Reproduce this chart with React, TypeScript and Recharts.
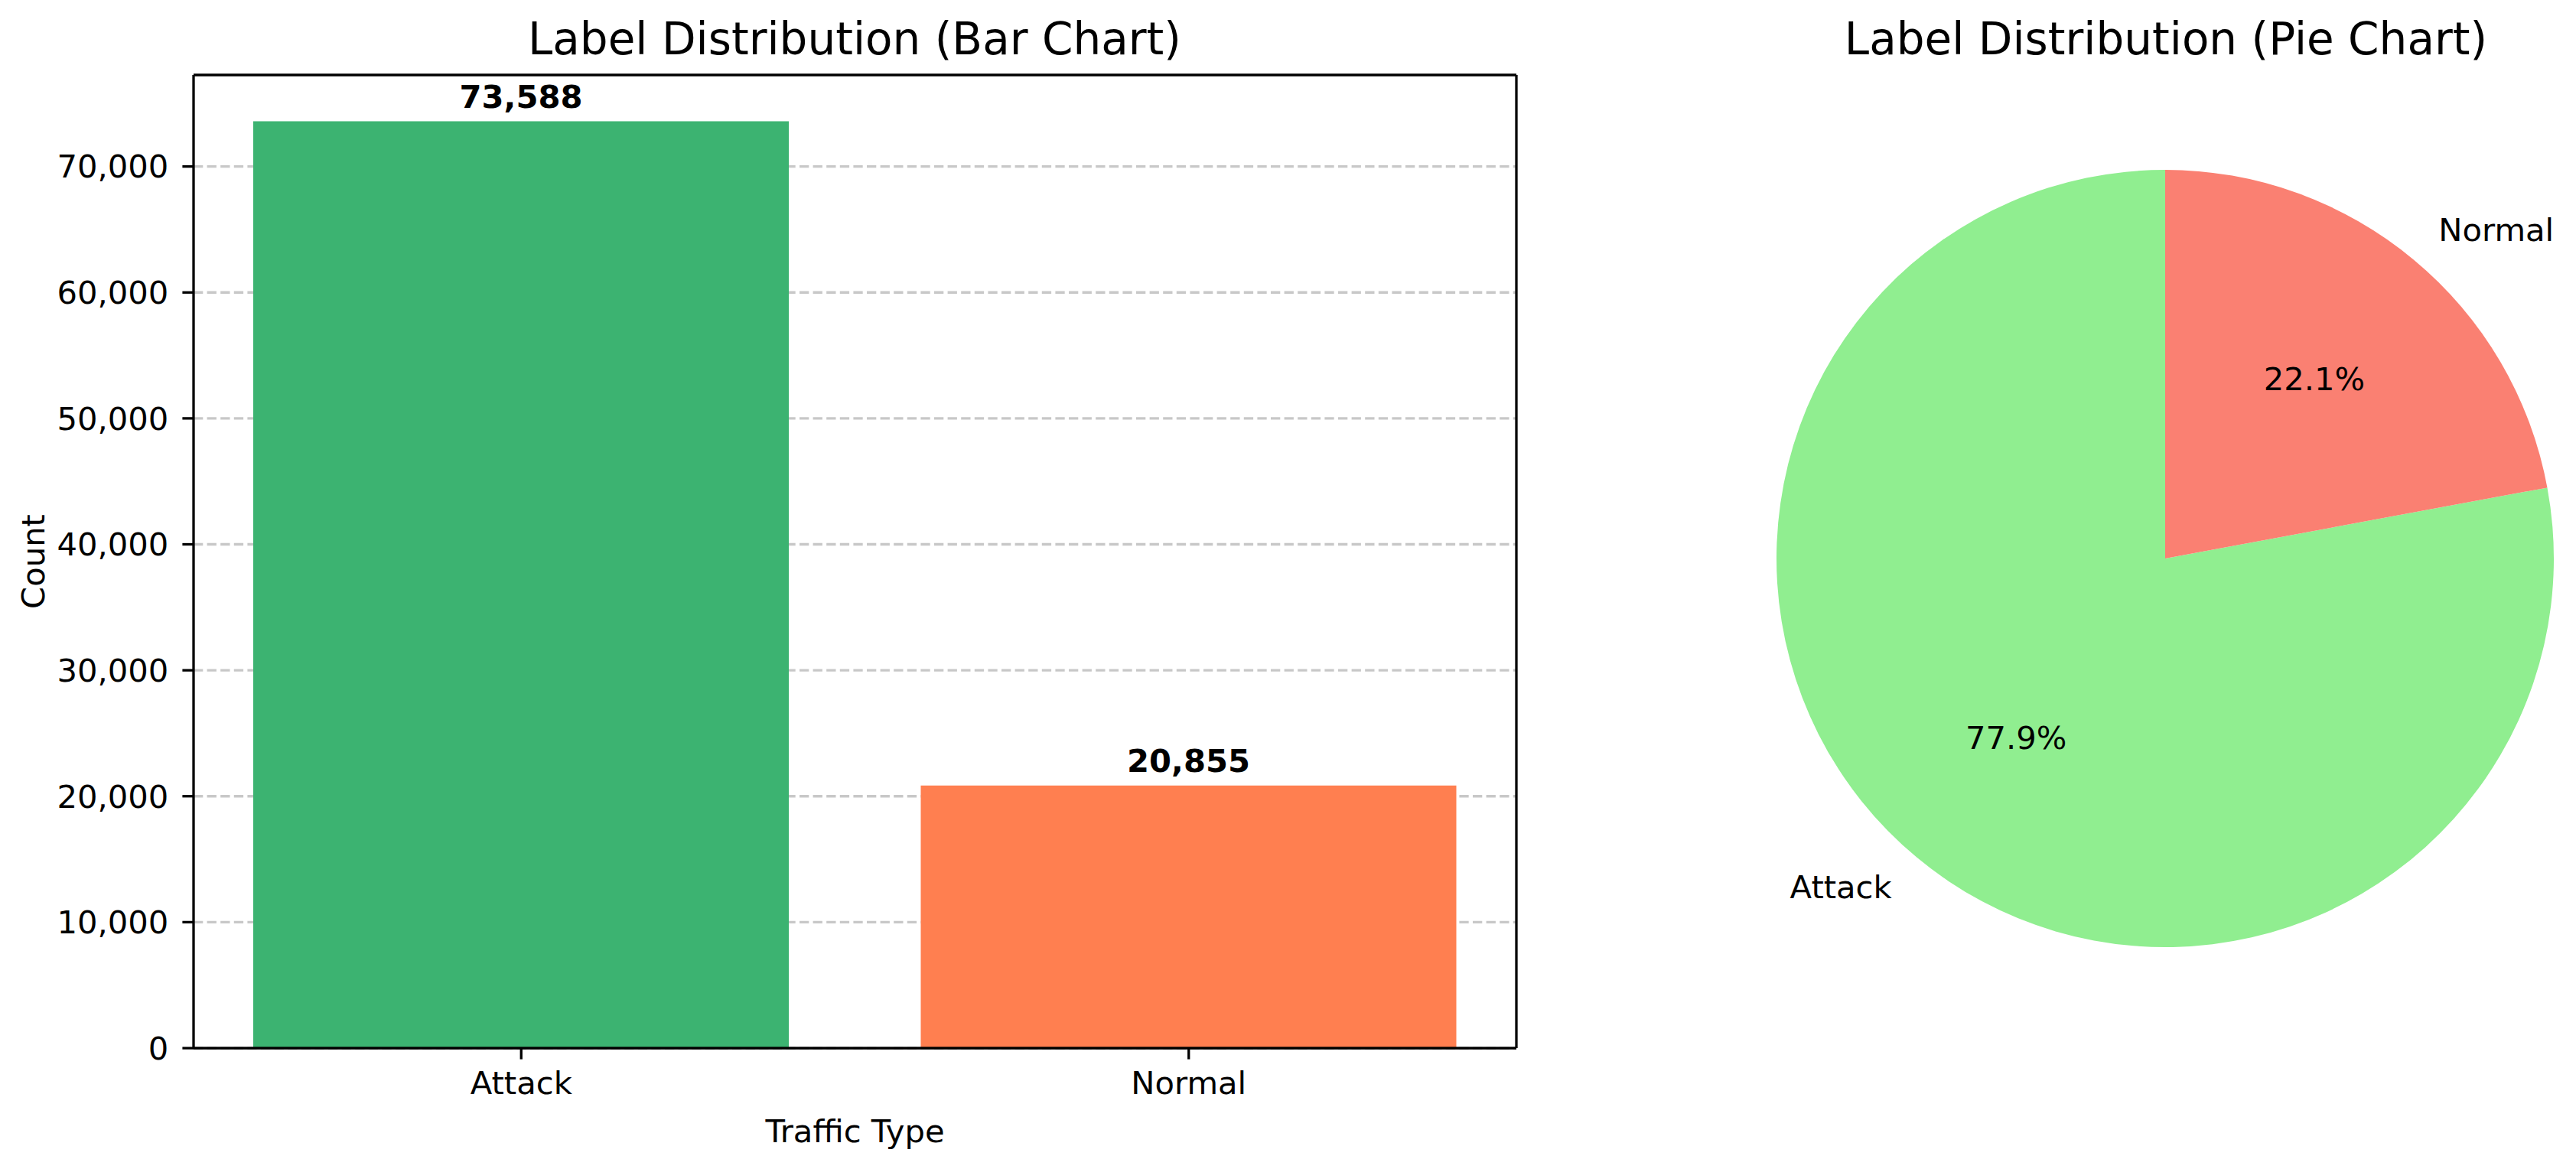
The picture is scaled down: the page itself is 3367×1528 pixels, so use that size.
import React from "react";
import {
  BarChart,
  Bar,
  XAxis,
  YAxis,
  CartesianGrid,
  Cell,
  LabelList,
  PieChart,
  Pie,
} from "recharts";

// Data
const categories = ["Attack", "Normal"];
const counts = [73588, 20855];
const barColors = ["#3cb371", "#ff7f50"]; // mediumseagreen, coral
const pieColors = ["#90ee90", "#fa8072"]; // lightgreen, salmon
const yTicks = [0, 10000, 20000, 30000, 40000, 50000, 60000, 70000];
const yMax = 77267; // matplotlib's 5% headroom over the tallest bar

const rows = categories.map((name, i) => ({ name, count: counts[i] }));

const FONT = "DejaVu Sans";
const SMALL = 41.7; // 10pt at 300 dpi
const TITLE = 58;
const LINE = 3.3;

const fmt = (v: any) => Number(v).toLocaleString("en-US");

const RAD = Math.PI / 180;

function pieLabel(p: any) {
  const { cx, cy, midAngle, outerRadius, percent, name } = p;
  const cos = Math.cos(-midAngle * RAD);
  const sin = Math.sin(-midAngle * RAD);
  const rIn = outerRadius * 0.6;
  const rOut = outerRadius * 1.1;
  return (
    <g>
      <text
        x={cx + rIn * cos}
        y={cy + rIn * sin}
        dy="0.34em"
        textAnchor="middle"
        fill="#000"
        fontSize={SMALL}
        fontFamily={FONT}
      >
        {(percent * 100).toFixed(1)}%
      </text>
      <text
        x={cx + rOut * cos}
        y={cy + rOut * sin}
        dy="0.34em"
        textAnchor={cos >= 0 ? "start" : "end"}
        fill="#000"
        fontSize={SMALL}
        fontFamily={FONT}
      >
        {name}
      </text>
    </g>
  );
}

export default function App() {
  const tick = { fill: "#000", fontSize: SMALL, fontFamily: FONT };
  return (
    <div style={{ position: "relative", width: 3367, height: 1528, background: "#fff", fontFamily: FONT }}>
      <style>{"body{margin:0}"}</style>

      {/* Bar chart */}
      <div style={{ position: "absolute", left: 0, top: 0 }}>
        <BarChart
          width={2100}
          height={1528}
          data={rows}
          margin={{ top: 97, right: 117, bottom: 30, left: 33 }}
        >
          <CartesianGrid
            vertical={false}
            syncWithTicks
            stroke="#b0b0b0"
            strokeOpacity={0.7}
            strokeDasharray="12.3 5.3"
            strokeWidth={LINE}
          />
          <Bar dataKey="count" barSize={700} isAnimationActive={false}>
            {rows.map((r, i) => (
              <Cell key={r.name} fill={barColors[i]} />
            ))}
            <LabelList
              dataKey="count"
              position="top"
              offset={18}
              formatter={fmt}
              fill="#000"
              fontSize={SMALL}
              fontWeight="bold"
              fontFamily={FONT}
            />
          </Bar>
          <XAxis
            dataKey="name"
            height={128}
            interval={0}
            padding={{ left: -8, right: -8 }}
            tick={tick}
            tickSize={14.6}
            tickMargin={16}
            tickLine={{ stroke: "#000", strokeWidth: LINE }}
            axisLine={{ stroke: "#000", strokeWidth: LINE }}
            label={{
              value: "Traffic Type",
              position: "insideBottom",
              offset: 5,
              fill: "#000",
              fontSize: SMALL,
              fontFamily: FONT,
            }}
          />
          <YAxis
            width={220}
            domain={[0, yMax]}
            ticks={yTicks}
            interval={0}
            tickFormatter={fmt}
            tick={tick}
            tickSize={14.6}
            tickMargin={18}
            tickLine={{ stroke: "#000", strokeWidth: LINE }}
            axisLine={{ stroke: "#000", strokeWidth: LINE }}
            label={{
              value: "Count",
              angle: -90,
              position: "insideLeft",
              offset: 10,
              fill: "#000",
              fontSize: SMALL,
              fontFamily: FONT,
              style: { textAnchor: "middle" },
            }}
          />
          {/* top and right spines */}
          <XAxis
            xAxisId="top"
            dataKey="name"
            orientation="top"
            height={1}
            tick={false}
            tickLine={false}
            axisLine={{ stroke: "#000", strokeWidth: LINE }}
          />
          <YAxis
            yAxisId="right"
            orientation="right"
            width={1}
            domain={[0, yMax]}
            ticks={yTicks}
            tick={false}
            tickLine={false}
            axisLine={{ stroke: "#000", strokeWidth: LINE }}
          />
        </BarChart>
      </div>

      {/* Pie chart */}
      <div style={{ position: "absolute", left: 2100, top: 0 }}>
        <PieChart width={1267} height={1528} margin={{ top: 0, right: 0, bottom: 0, left: 0 }}>
          <Pie
            data={rows}
            dataKey="count"
            nameKey="name"
            cx={730}
            cy={730}
            outerRadius={508}
            startAngle={90}
            endAngle={450}
            stroke="none"
            labelLine={false}
            label={pieLabel}
            isAnimationActive={false}
          >
            {rows.map((r, i) => (
              <Cell key={r.name} fill={pieColors[i]} />
            ))}
          </Pie>
        </PieChart>
      </div>

      {/* Titles */}
      <svg
        width={3367}
        height={1528}
        style={{ position: "absolute", left: 0, top: 0, pointerEvents: "none" }}
      >
        <text x={1117} y={71} textAnchor="middle" fontSize={TITLE} fontFamily={FONT} fill="#000">
          Label Distribution (Bar Chart)
        </text>
        <text x={2831} y={71} textAnchor="middle" fontSize={TITLE} fontFamily={FONT} fill="#000">
          Label Distribution (Pie Chart)
        </text>
      </svg>
    </div>
  );
}
